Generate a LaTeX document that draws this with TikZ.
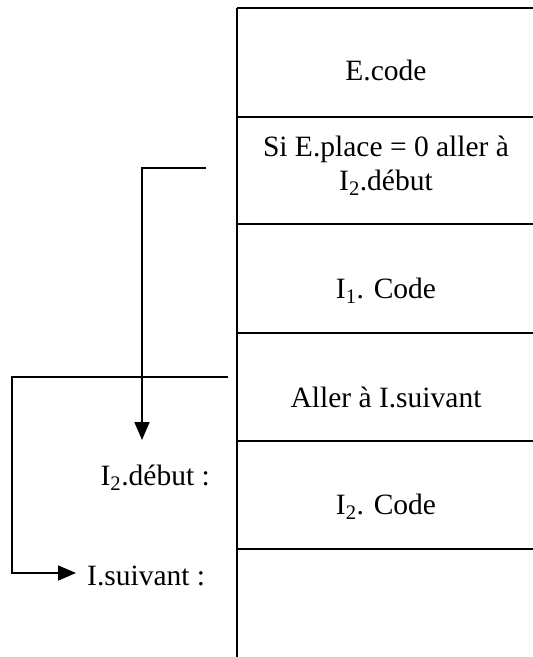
\documentclass[tikz,border=0pt]{standalone}
\usepackage{fontspec}
\setmainfont{Liberation Serif}
\usetikzlibrary{arrows.meta}
\begin{document}
\begin{tikzpicture}[x=1pt,y=-1pt,
  cell/.style={inner sep=0pt, anchor=base, font=\fontsize{29.5}{34}\selectfont, align=center},
  lab/.style={inner sep=0pt, font=\fontsize{29.5}{34}\selectfont},
  rule/.style={line width=1.7pt},
  jump/.style={line width=1.7pt, -{Triangle[width=15pt,length=18pt]}}]
\useasboundingbox (0,0) rectangle (533,657);
% column
\draw[rule] (237,8) -- (237,657);
\foreach \y in {8,117,224,333,441,549} \draw[rule] (237,\y) -- (533,\y);
% cells
\node[cell] (ecode) at (386,80) {E.code};
\node[cell] (test) at (386,190) {Si E.place = 0 aller à\\I\textsubscript{2}.début};
\node[cell] (icode) at (386,298) {I\textsubscript{1}. Code};
\node[cell] (goto) at (386,407) {Aller à I.suivant};
\node[cell] (iicode) at (386,514) {I\textsubscript{2}. Code};
% labels
\node[lab, anchor=base east] (debut) at (210,485) {I\textsubscript{2}.début :};
\node[lab, anchor=base west] (suiv) at (87,585) {I.suivant :};
% jumps
\coordinate (s1) at (206,168);
\coordinate (t1) at (142,440);
\draw[jump] (s1) -- (t1 |- s1) -- (t1);
\coordinate (s2) at (228,377);
\coordinate (k2) at (12,377);
\coordinate (t2) at (76,573);
\draw[jump] (s2) -- (k2) |- (t2);
\end{tikzpicture}
\end{document}
